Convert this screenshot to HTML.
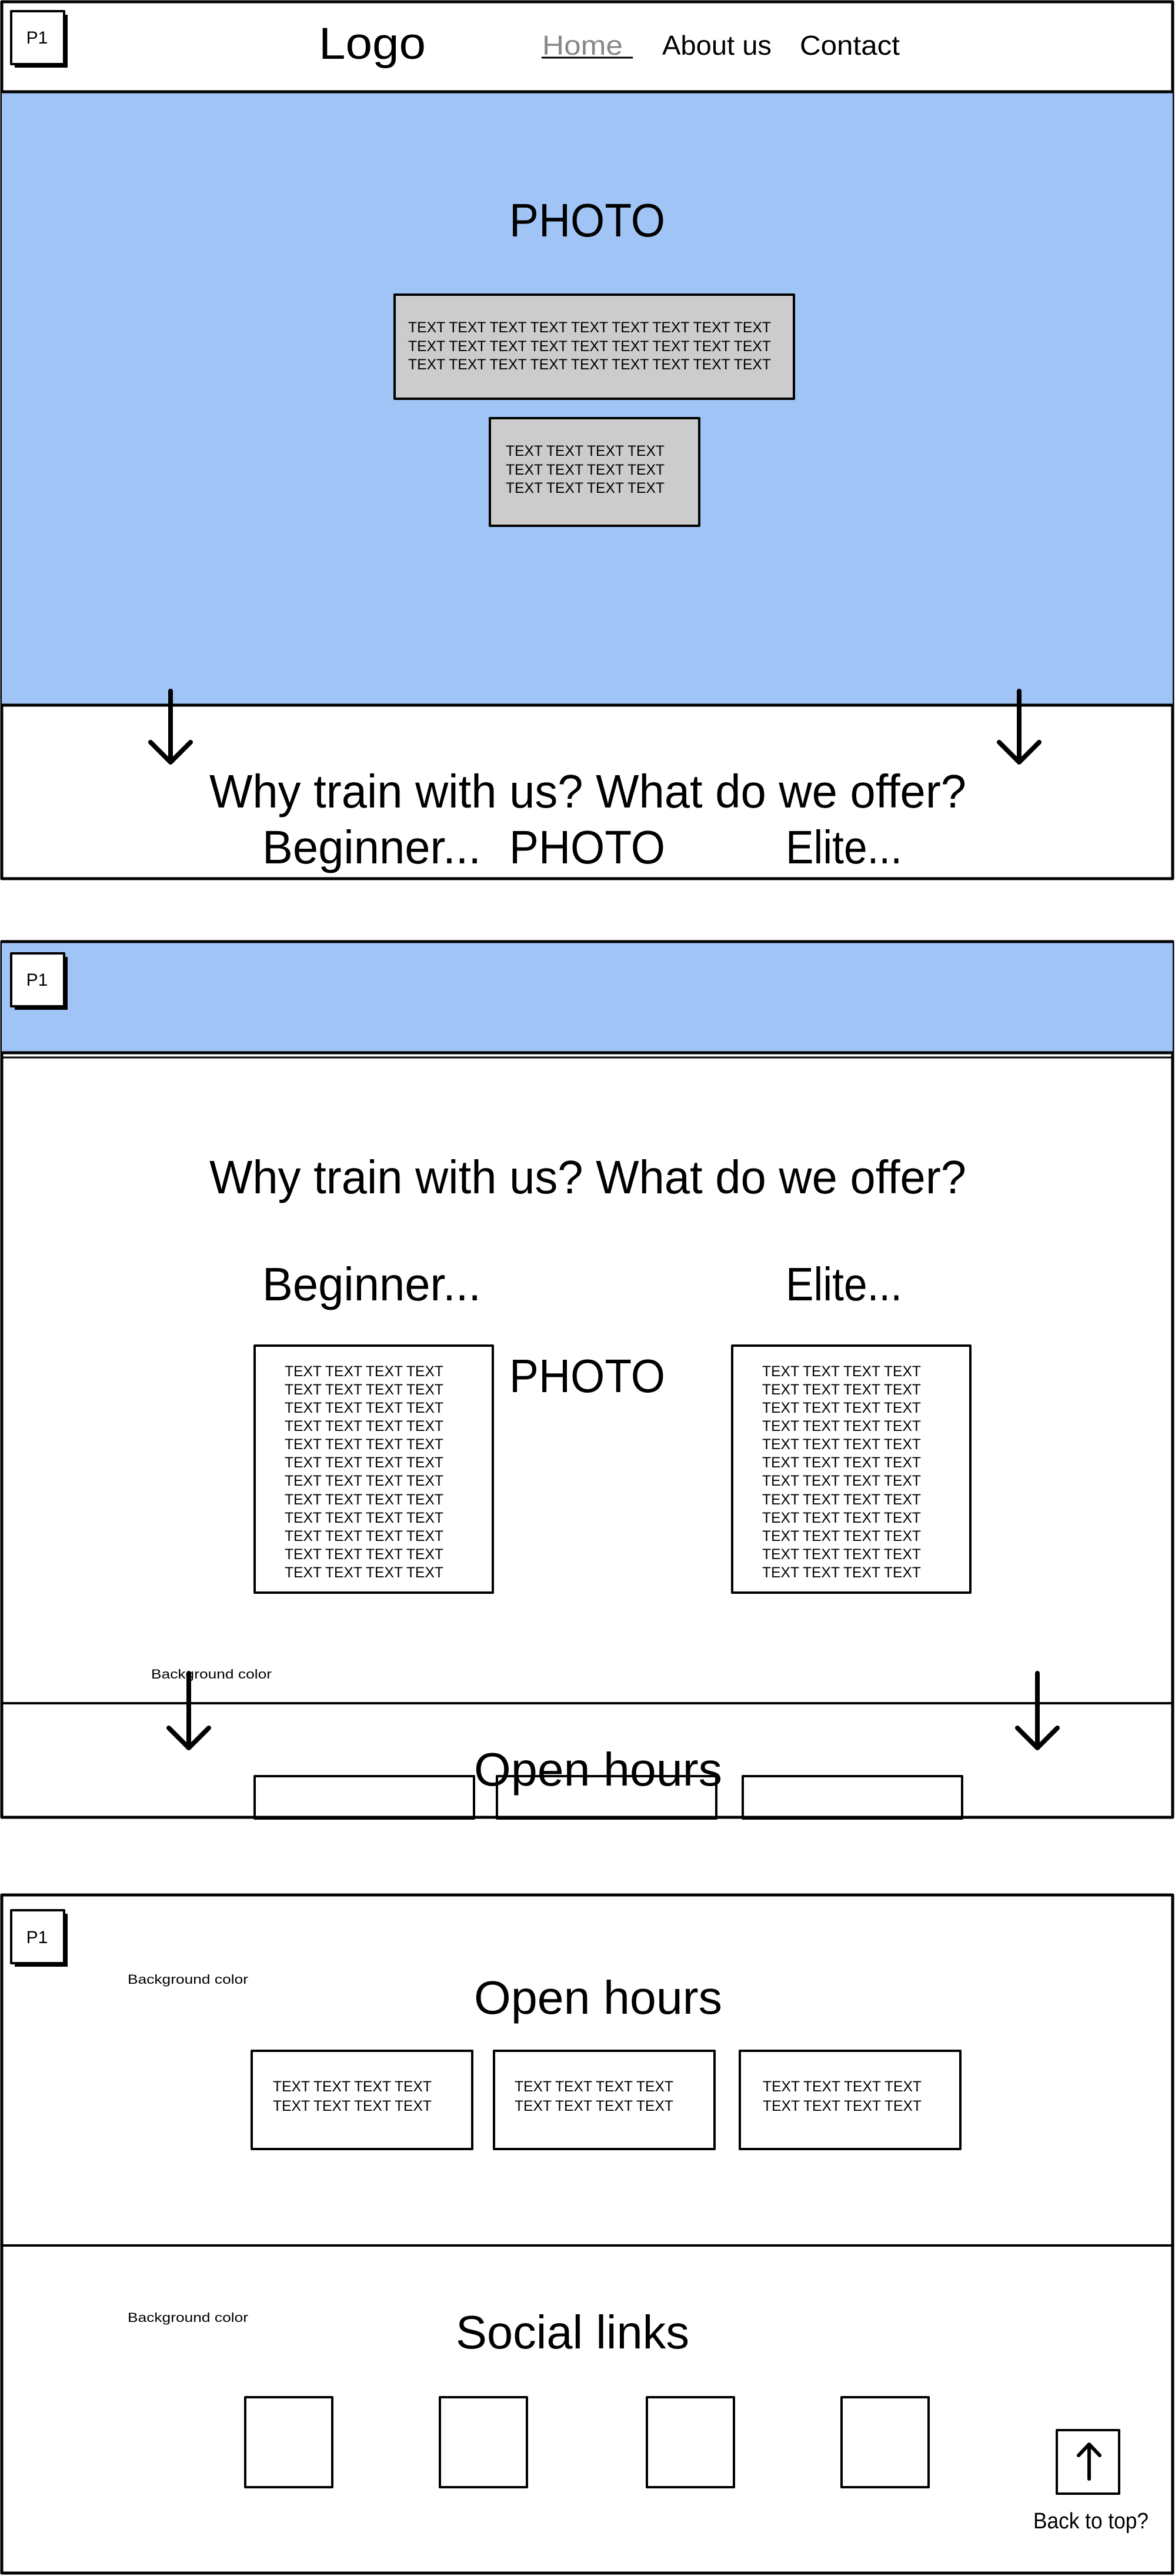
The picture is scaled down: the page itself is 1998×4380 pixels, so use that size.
<!DOCTYPE html>
<html><head><meta charset="utf-8"><style>
html,body{margin:0;padding:0;background:#fff;}
svg{display:block;}
text{font-family:"Liberation Sans",sans-serif;fill:#000;}
</style></head><body>
<svg width="1998" height="4380" viewBox="0 0 1998 4380" xmlns="http://www.w3.org/2000/svg">
<g fill="none" stroke="#000" stroke-linecap="round" stroke-linejoin="round">
<!-- Section 1 -->
<rect x="3" y="3" width="1991" height="1491" fill="#fff" stroke-width="5"/>
<rect x="3" y="156" width="1991" height="1043" fill="#a0c4f6" stroke="none"/>
<line x1="3" y1="156" x2="1994" y2="156" stroke-width="5"/>
<line x1="3" y1="1199" x2="1994" y2="1199" stroke-width="5"/>
<rect x="25" y="25" width="90" height="90" fill="#000" stroke="none"/>
<rect x="19" y="19" width="90" height="90" fill="#fff" stroke-width="4"/>
<rect x="671" y="501" width="679" height="177" fill="#cccccc" stroke-width="4"/>
<rect x="833" y="711" width="356" height="183" fill="#cccccc" stroke-width="4"/>
<line x1="922" y1="98" x2="1075" y2="98" stroke-width="3"/>
<path d="M290 1175 V1295 M256 1262 L290 1296 L324 1262" stroke-width="8"/>
<path d="M1733 1175 V1295 M1699 1262 L1733 1296 L1767 1262" stroke-width="8"/>
<!-- Section 2 -->
<rect x="3" y="1601" width="1991" height="1489" fill="#fff" stroke-width="5"/>
<rect x="3" y="1601" width="1991" height="189" fill="#a0c4f6" stroke="none"/>
<line x1="3" y1="1601" x2="1994" y2="1601" stroke-width="5"/>
<line x1="3" y1="1790" x2="1994" y2="1790" stroke-width="5"/>
<line x1="3" y1="1798" x2="1994" y2="1798" stroke-width="3"/>
<rect x="25" y="1627" width="90" height="90" fill="#000" stroke="none"/>
<rect x="19" y="1621" width="90" height="90" fill="#fff" stroke-width="4"/>
<rect x="433" y="2288" width="405" height="420" fill="#fff" stroke-width="4"/>
<rect x="1245" y="2288" width="405" height="420" fill="#fff" stroke-width="4"/>
<line x1="3" y1="2896" x2="1994" y2="2896" stroke-width="4"/>
<rect x="433" y="3020" width="373" height="72" stroke-width="4"/>
<rect x="845" y="3020" width="373" height="72" stroke-width="4"/>
<rect x="1263" y="3020" width="373" height="72" stroke-width="4"/>
<path d="M321 2845 V2972 M287 2938 L321 2972 L355 2938" stroke-width="8"/>
<path d="M1764 2845 V2972 M1730 2938 L1764 2972 L1798 2938" stroke-width="8"/>
<!-- Section 3 -->
<rect x="3" y="3222" width="1991" height="1153" fill="#fff" stroke-width="5"/>
<rect x="25" y="3254" width="90" height="90" fill="#000" stroke="none"/>
<rect x="19" y="3248" width="90" height="90" fill="#fff" stroke-width="4"/>
<rect x="428" y="3487" width="375" height="167" stroke-width="4"/>
<rect x="840" y="3487" width="375" height="167" stroke-width="4"/>
<rect x="1258" y="3487" width="375" height="167" stroke-width="4"/>
<line x1="3" y1="3818" x2="1994" y2="3818" stroke-width="4"/>
<rect x="417" y="4076" width="148" height="153" stroke-width="4"/>
<rect x="748" y="4076" width="148" height="153" stroke-width="4"/>
<rect x="1100" y="4076" width="148" height="153" stroke-width="4"/>
<rect x="1431" y="4076" width="148" height="153" stroke-width="4"/>
<rect x="1797" y="4132" width="106" height="108" stroke-width="4"/>
<path d="M1852 4215 V4157 M1834 4175 L1852 4156 L1870 4175" stroke-width="6"/>
</g>

<!-- Section 1 text -->
<text x="63" y="74" font-size="30" text-anchor="middle">P1</text>
<text x="633" y="100" font-size="76" text-anchor="middle" textLength="182" lengthAdjust="spacingAndGlyphs">Logo</text>
<text x="922" y="93" font-size="46" fill="#888" style="fill:#888" textLength="137" lengthAdjust="spacingAndGlyphs">Home</text>
<text x="1126" y="93" font-size="46" textLength="186" lengthAdjust="spacingAndGlyphs">About us</text>
<text x="1360" y="93" font-size="46" textLength="170" lengthAdjust="spacingAndGlyphs">Contact</text>
<text x="866" y="402" font-size="80" textLength="265" lengthAdjust="spacingAndGlyphs">PHOTO</text>
<g font-size="25">
<text x="694" y="565" textLength="617" lengthAdjust="spacingAndGlyphs">TEXT TEXT TEXT TEXT TEXT TEXT TEXT TEXT TEXT</text>
<text x="694" y="597" textLength="617" lengthAdjust="spacingAndGlyphs">TEXT TEXT TEXT TEXT TEXT TEXT TEXT TEXT TEXT</text>
<text x="694" y="628" textLength="617" lengthAdjust="spacingAndGlyphs">TEXT TEXT TEXT TEXT TEXT TEXT TEXT TEXT TEXT</text>
<text x="860" y="775" textLength="270" lengthAdjust="spacingAndGlyphs">TEXT TEXT TEXT TEXT</text>
<text x="860" y="807" textLength="270" lengthAdjust="spacingAndGlyphs">TEXT TEXT TEXT TEXT</text>
<text x="860" y="838" textLength="270" lengthAdjust="spacingAndGlyphs">TEXT TEXT TEXT TEXT</text>
</g>
<text x="356" y="1373" font-size="80" textLength="1287" lengthAdjust="spacingAndGlyphs">Why train with us? What do we offer?</text>
<text x="446" y="1468" font-size="80" textLength="372" lengthAdjust="spacingAndGlyphs">Beginner...</text>
<text x="866" y="1468" font-size="80" textLength="265" lengthAdjust="spacingAndGlyphs">PHOTO</text>
<text x="1336" y="1468" font-size="80" textLength="198" lengthAdjust="spacingAndGlyphs">Elite...</text>

<!-- Section 2 text -->
<text x="63" y="1676" font-size="30" text-anchor="middle">P1</text>
<text x="356" y="2029" font-size="80" textLength="1287" lengthAdjust="spacingAndGlyphs">Why train with us? What do we offer?</text>
<text x="446" y="2211" font-size="80" textLength="372" lengthAdjust="spacingAndGlyphs">Beginner...</text>
<text x="1336" y="2211" font-size="80" textLength="198" lengthAdjust="spacingAndGlyphs">Elite...</text>
<text x="866" y="2367" font-size="80" textLength="265" lengthAdjust="spacingAndGlyphs">PHOTO</text>
<svg x="433" y="2288" width="405" height="404" overflow="hidden">
<g font-size="25">
<text x="51" y="52" textLength="270" lengthAdjust="spacingAndGlyphs">TEXT TEXT TEXT TEXT</text>
<text x="51" y="83" textLength="270" lengthAdjust="spacingAndGlyphs">TEXT TEXT TEXT TEXT</text>
<text x="51" y="114" textLength="270" lengthAdjust="spacingAndGlyphs">TEXT TEXT TEXT TEXT</text>
<text x="51" y="145" textLength="270" lengthAdjust="spacingAndGlyphs">TEXT TEXT TEXT TEXT</text>
<text x="51" y="176" textLength="270" lengthAdjust="spacingAndGlyphs">TEXT TEXT TEXT TEXT</text>
<text x="51" y="207" textLength="270" lengthAdjust="spacingAndGlyphs">TEXT TEXT TEXT TEXT</text>
<text x="51" y="238" textLength="270" lengthAdjust="spacingAndGlyphs">TEXT TEXT TEXT TEXT</text>
<text x="51" y="270" textLength="270" lengthAdjust="spacingAndGlyphs">TEXT TEXT TEXT TEXT</text>
<text x="51" y="301" textLength="270" lengthAdjust="spacingAndGlyphs">TEXT TEXT TEXT TEXT</text>
<text x="51" y="332" textLength="270" lengthAdjust="spacingAndGlyphs">TEXT TEXT TEXT TEXT</text>
<text x="51" y="363" textLength="270" lengthAdjust="spacingAndGlyphs">TEXT TEXT TEXT TEXT</text>
<text x="51" y="394" textLength="270" lengthAdjust="spacingAndGlyphs">TEXT TEXT TEXT TEXT</text>
</g></svg>
<svg x="1245" y="2288" width="405" height="404" overflow="hidden">
<g font-size="25">
<text x="51" y="52" textLength="270" lengthAdjust="spacingAndGlyphs">TEXT TEXT TEXT TEXT</text>
<text x="51" y="83" textLength="270" lengthAdjust="spacingAndGlyphs">TEXT TEXT TEXT TEXT</text>
<text x="51" y="114" textLength="270" lengthAdjust="spacingAndGlyphs">TEXT TEXT TEXT TEXT</text>
<text x="51" y="145" textLength="270" lengthAdjust="spacingAndGlyphs">TEXT TEXT TEXT TEXT</text>
<text x="51" y="176" textLength="270" lengthAdjust="spacingAndGlyphs">TEXT TEXT TEXT TEXT</text>
<text x="51" y="207" textLength="270" lengthAdjust="spacingAndGlyphs">TEXT TEXT TEXT TEXT</text>
<text x="51" y="238" textLength="270" lengthAdjust="spacingAndGlyphs">TEXT TEXT TEXT TEXT</text>
<text x="51" y="270" textLength="270" lengthAdjust="spacingAndGlyphs">TEXT TEXT TEXT TEXT</text>
<text x="51" y="301" textLength="270" lengthAdjust="spacingAndGlyphs">TEXT TEXT TEXT TEXT</text>
<text x="51" y="332" textLength="270" lengthAdjust="spacingAndGlyphs">TEXT TEXT TEXT TEXT</text>
<text x="51" y="363" textLength="270" lengthAdjust="spacingAndGlyphs">TEXT TEXT TEXT TEXT</text>
<text x="51" y="394" textLength="270" lengthAdjust="spacingAndGlyphs">TEXT TEXT TEXT TEXT</text>
</g></svg>
<text x="257" y="2854" font-size="22" textLength="205" lengthAdjust="spacingAndGlyphs">Background color</text>
<text x="806" y="3036" font-size="80" textLength="422" lengthAdjust="spacingAndGlyphs">Open hours</text>

<!-- Section 3 text -->
<text x="63" y="3304" font-size="30" text-anchor="middle">P1</text>
<text x="217" y="3373" font-size="22" textLength="205" lengthAdjust="spacingAndGlyphs">Background color</text>
<text x="806" y="3424" font-size="80" textLength="422" lengthAdjust="spacingAndGlyphs">Open hours</text>
<g font-size="25">
<text x="464" y="3556" textLength="270" lengthAdjust="spacingAndGlyphs">TEXT TEXT TEXT TEXT</text>
<text x="464" y="3589" textLength="270" lengthAdjust="spacingAndGlyphs">TEXT TEXT TEXT TEXT</text>
<text x="875" y="3556" textLength="270" lengthAdjust="spacingAndGlyphs">TEXT TEXT TEXT TEXT</text>
<text x="875" y="3589" textLength="270" lengthAdjust="spacingAndGlyphs">TEXT TEXT TEXT TEXT</text>
<text x="1297" y="3556" textLength="270" lengthAdjust="spacingAndGlyphs">TEXT TEXT TEXT TEXT</text>
<text x="1297" y="3589" textLength="270" lengthAdjust="spacingAndGlyphs">TEXT TEXT TEXT TEXT</text>
</g>
<text x="217" y="3948" font-size="22" textLength="205" lengthAdjust="spacingAndGlyphs">Background color</text>
<text x="775" y="3993" font-size="80" textLength="397" lengthAdjust="spacingAndGlyphs">Social links</text>
<text x="1757" y="4299" font-size="38" textLength="196" lengthAdjust="spacingAndGlyphs">Back to top?</text>
</svg>
</body></html>
